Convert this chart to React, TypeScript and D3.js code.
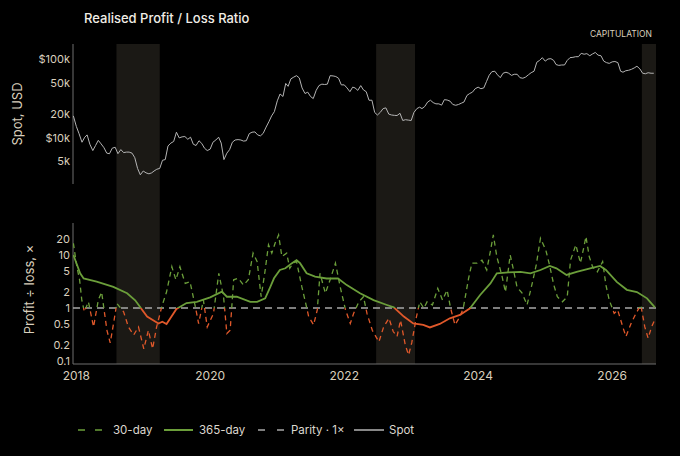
import * as d3 from 'd3';

// Spot price (thousand USD), sampled on the 1st and 16th of each month from 2017-12-16
const SPOT_K = [
  19,
  14.0, 11.3, 8.8, 10.2, 10.9, 8.3, 6.9, 8.0, 9.3, 8.4, 7.5, 6.4, 6.3, 7.4, 7.6, 6.3, 7.1, 6.5, 6.6, 6.6, 6.4, 5.6, 4.1, 3.4,
  3.8, 3.6, 3.5, 3.6, 3.8, 4.0, 4.1, 5.2, 5.3, 7.9, 8.6, 9.0, 11.8, 10.0, 10.3, 10.4, 9.6, 10.2, 8.3, 8.0, 9.2, 8.5, 7.4, 6.9,
  7.2, 8.8, 9.4, 10.2, 8.6, 5.3, 6.4, 7.1, 8.8, 9.4, 9.5, 9.4, 9.1, 9.2, 11.3, 11.8, 11.9, 10.9, 10.6, 11.4, 13.7, 16.0, 19.0, 21.5,
  29.5, 36, 33.5, 49, 45, 56, 59, 61.5, 57.5, 43, 36.5, 38, 33.5, 31.5, 40, 46, 48, 47.5, 48, 61.5, 61, 60, 57, 47,
  47, 43, 38.5, 44, 43, 40, 46, 40.5, 38.5, 30, 30, 21, 19.5, 21, 23.5, 24, 20, 19.5, 19.3, 19.2, 20.5, 16.6, 17.0, 16.8,
  16.6, 21, 23.5, 24.5, 23.5, 25, 28.5, 30, 28, 27, 27, 26, 30.5, 30.2, 29.2, 26.5, 25.9, 26.5, 27.5, 28.5, 34.5, 36.5, 38, 42,
  44, 42, 43, 52, 62, 69, 70, 63, 58, 66, 68, 66, 62, 64, 64, 58, 57, 59, 63, 67, 70, 91, 96, 104,
  94, 100, 101, 96, 85, 83, 84, 84, 96, 104, 105, 107, 107, 118, 115, 117, 110, 116, 121, 112, 110, 94, 90, 88,
  92, 93, 90, 70, 68, 71, 72, 74, 77, 81, 75, 66, 65, 67, 66, 66,
];

// 30-day realised profit / loss ratio
const RATIO_30: [string, number][] = [
  ['2017-12-16', 16.6], ['2018-01-04', 6.0], ['2018-01-19', 3.4], ['2018-01-31', 1.4], ['2018-02-14', 0.85],
  ['2018-03-08', 1.31], ['2018-04-05', 0.44], ['2018-05-01', 1.41], ['2018-05-19', 2.0], ['2018-06-17', 0.38],
  ['2018-07-05', 0.22], ['2018-07-23', 0.51], ['2018-08-10', 1.22], ['2018-09-16', 0.85], ['2018-10-12', 0.44],
  ['2018-11-10', 0.31], ['2018-12-06', 0.44], ['2019-01-04', 0.17], ['2019-01-29', 0.38], ['2019-02-21', 0.17],
  ['2019-03-15', 0.44], ['2019-04-12', 1.06], ['2019-05-08', 2.0], ['2019-06-06', 6.0], ['2019-06-28', 3.4],
  ['2019-07-20', 6.0], ['2019-08-18', 2.9], ['2019-09-13', 3.14], ['2019-10-12', 1.06], ['2019-10-30', 0.51],
  ['2019-11-25', 1.41], ['2019-12-16', 0.44], ['2020-01-19', 0.79], ['2020-02-17', 4.5], ['2020-03-14', 1.63],
  ['2020-04-01', 0.33], ['2020-04-19', 0.38], ['2020-05-08', 3.4], ['2020-06-03', 3.63], ['2020-07-01', 2.7],
  ['2020-07-27', 3.4], ['2020-08-22', 10.8], ['2020-09-13', 7.5], ['2020-10-05', 1.63], ['2020-10-27', 5.2],
  ['2020-11-14', 15.5], ['2020-12-02', 10.8], ['2020-12-20', 16.6], ['2021-01-08', 23.8], ['2021-01-26', 9.3],
  ['2021-02-21', 10.8], ['2021-03-10', 5.6], ['2021-03-28', 7.0], ['2021-04-16', 7.5], ['2021-05-15', 2.5],
  ['2021-06-03', 1.31], ['2021-06-21', 0.69], ['2021-07-18', 0.48], ['2021-08-07', 0.92], ['2021-08-22', 4.5],
  ['2021-09-20', 1.9], ['2021-10-16', 3.4], ['2021-11-14', 7.0], ['2021-12-10', 2.5], ['2022-01-08', 0.92],
  ['2022-02-03', 0.51], ['2022-02-21', 0.79], ['2022-03-22', 1.31], ['2022-04-16', 1.63], ['2022-05-05', 0.79],
  ['2022-06-03', 0.38], ['2022-07-09', 0.23], ['2022-08-04', 0.44], ['2022-09-02', 0.64], ['2022-09-25', 0.36],
  ['2022-10-16', 0.29], ['2022-11-04', 0.59], ['2022-11-30', 0.2], ['2022-12-18', 0.13], ['2023-01-04', 0.22],
  ['2023-01-30', 0.69], ['2023-02-17', 1.31], ['2023-03-11', 0.99], ['2023-03-29', 1.31], ['2023-04-27', 1.14],
  ['2023-05-26', 2.35], ['2023-06-21', 1.41], ['2023-07-16', 2.18], ['2023-08-04', 0.99], ['2023-08-28', 0.48],
  ['2023-09-24', 0.69], ['2023-10-12', 0.99], ['2023-11-10', 3.6], ['2023-11-28', 7.0], ['2023-12-26', 7.0],
  ['2024-01-22', 8.0], ['2024-02-17', 5.2], ['2024-03-06', 10.8], ['2024-03-24', 23.8], ['2024-04-12', 9.3],
  ['2024-05-11', 3.9], ['2024-05-29', 2.0], ['2024-06-24', 10], ['2024-07-12', 5.2], ['2024-07-31', 2.5],
  ['2024-08-28', 1.9], ['2024-09-24', 1.14], ['2024-10-22', 2.9], ['2024-11-13', 6.5], ['2024-12-06', 20.6],
  ['2025-01-04', 12.4], ['2025-01-22', 7.0], ['2025-02-17', 2.7], ['2025-03-08', 1.63], ['2025-04-05', 1.31],
  ['2025-05-01', 1.63], ['2025-05-19', 8.0], ['2025-06-17', 15.5], ['2025-07-12', 7.0], ['2025-07-31', 14.3],
  ['2025-08-11', 22.2], ['2025-08-29', 9.3], ['2025-09-16', 6.0], ['2025-10-12', 4.8], ['2025-11-10', 7.5],
  ['2025-11-28', 2.7], ['2025-12-16', 1.41], ['2026-01-12', 0.79], ['2026-01-31', 0.92], ['2026-02-28', 0.44],
  ['2026-03-17', 0.29], ['2026-04-14', 0.51], ['2026-05-11', 0.79], ['2026-06-06', 1.14], ['2026-06-28', 0.44],
  ['2026-07-16', 0.27], ['2026-08-04', 0.44], ['2026-08-25', 0.64],
];

// 365-day realised profit / loss ratio
const RATIO_365: [string, number][] = [
  ['2017-12-16', 10], ['2018-01-22', 4.5], ['2018-02-10', 3.6], ['2018-04-22', 3.14], ['2018-07-22', 2.5],
  ['2018-10-05', 1.9], ['2018-11-18', 1.4], ['2018-12-16', 1.03], ['2019-01-22', 0.69], ['2019-03-25', 0.51],
  ['2019-04-15', 0.55], ['2019-05-08', 0.5], ['2019-07-01', 0.96], ['2019-08-25', 1.24], ['2019-10-20', 1.31],
  ['2020-01-01', 1.59], ['2020-03-05', 2.03], ['2020-04-01', 1.63], ['2020-05-25', 1.63], ['2020-08-07', 1.31],
  ['2020-09-13', 1.31], ['2020-10-27', 1.52], ['2020-11-24', 2.5], ['2020-12-14', 3.63], ['2021-01-15', 5.2],
  ['2021-02-14', 5.6], ['2021-03-22', 7.0], ['2021-04-16', 8.0], ['2021-05-05', 7.0], ['2021-06-10', 4.5],
  ['2021-07-26', 3.9], ['2021-09-27', 3.6], ['2021-11-28', 3.6], ['2022-01-15', 2.7], ['2022-03-28', 1.9],
  ['2022-06-10', 1.41], ['2022-08-22', 1.14], ['2022-09-28', 1.03], ['2022-11-22', 0.69], ['2023-01-12', 0.51],
  ['2023-03-08', 0.48], ['2023-04-13', 0.43], ['2023-06-06', 0.5], ['2023-07-31', 0.64], ['2023-09-24', 0.74],
  ['2023-11-18', 0.99], ['2024-01-12', 1.76], ['2024-03-08', 2.9], ['2024-04-12', 4.5], ['2024-06-14', 4.7],
  ['2024-08-19', 4.8], ['2024-10-12', 4.5], ['2024-12-06', 5.2], ['2025-01-26', 6.2], ['2025-03-03', 5.6],
  ['2025-04-27', 4.2], ['2025-06-21', 4.8], ['2025-09-03', 5.6], ['2025-10-27', 6.2], ['2025-11-28', 5.2],
  ['2026-01-26', 3.1], ['2026-03-22', 2.2], ['2026-05-16', 2.0], ['2026-07-10', 1.52], ['2026-08-22', 1.03],
];

// Capitulation windows
const CAPITULATION: [string, string][] = [
  ['2018-08-08', '2019-04-01'],
  ['2022-06-24', '2023-01-22'],
  ['2026-06-12', '2026-08-28'],
];

const YEAR_TICKS = [2018, 2020, 2022, 2024, 2026];
const SPOT_TICKS = [5000, 10000, 20000, 50000, 100000];
const SPOT_TICK_LABELS = ['5k', '$10k', '20k', '50k', '$100k'];
const RATIO_TICKS = [0.1, 0.2, 0.5, 1, 2, 5, 10, 20];
const RATIO_TICK_LABELS = ['0.1', '0.2', '0.5', '1', '2', '5', '10', '20'];

const W = 680;
const H = 456;
const LEFT = 73;
const RIGHT = 656;
const TOP1 = 44;
const BOT1 = 184;
const TOP2 = 223;
const BOT2 = 364;

const GREEN = '#6b9e3a';
const ORANGE = '#e0582a';
const TEXT = '#d9cfbd';
const FONT = 'Inter, "Noto Sans", sans-serif';

const parse = d3.utcParse('%Y-%m-%d');

type Pt = { date: Date; value: number };

const spotPts: Pt[] = SPOT_K.map((v, i) => {
  const m = Math.floor((i + 1) / 2);
  const day = (i + 1) % 2 === 0 ? 1 : 16;
  return { date: new Date(Date.UTC(2017, 11 + m, day)), value: v * 1000 };
});
const r30: Pt[] = RATIO_30.map(([d, v]) => ({ date: parse(d)!, value: v }));
const r365: Pt[] = RATIO_365.map(([d, v]) => ({ date: parse(d)!, value: v }));

export default function App() {
  const x = d3
    .scaleUtc()
    .domain([parse('2017-12-14')!, parse('2026-08-28')!])
    .range([LEFT, RIGHT]);
  const ySpot = d3.scaleLog().domain([2600, 155000]).range([BOT1, TOP1]);
  const yRatio = d3.scaleLog().domain([0.088, 40]).range([BOT2, TOP2]);

  const spotLine = d3
    .line<Pt>()
    .x((d) => x(d.date))
    .y((d) => ySpot(d.value));
  const ratioLine = d3
    .line<Pt>()
    .x((d) => x(d.date))
    .y((d) => yRatio(d.value));

  const y1 = yRatio(1);

  return (
    <svg
      width={W}
      height={H}
      style={{ position: 'absolute', left: 0, top: 0, display: 'block' }}
      fontFamily={FONT}
    >
      <defs>
        <clipPath id="above">
          <rect x={LEFT} y={TOP2 - 10} width={RIGHT - LEFT} height={y1 - TOP2 + 10} />
        </clipPath>
        <clipPath id="below">
          <rect x={LEFT} y={y1} width={RIGHT - LEFT} height={BOT2 - y1 + 10} />
        </clipPath>
      </defs>
      <rect width={W} height={H} fill="#000" />

      {/* shaded capitulation windows across both panels */}
      {CAPITULATION.map(([a, b]) => (
        <rect
          key={a}
          x={x(parse(a)!)}
          y={TOP1}
          width={x(parse(b)!) - x(parse(a)!)}
          height={BOT2 - TOP1}
          fill="#1b1915"
        />
      ))}

      <text x={84} y={23} fill="#f1ede6" fontSize={13} fontWeight={500}>
        Realised Profit / Loss Ratio
      </text>
      <text x={652} y={37} fill={TEXT} fontSize={8.5} textAnchor="end">
        CAPITULATION
      </text>

      {/* top panel: spot */}
      <line x1={LEFT} x2={LEFT} y1={TOP1} y2={BOT1} stroke="#6e6e6e" />
      {SPOT_TICKS.map((t, i) => (
        <text key={t} x={70} y={ySpot(t)} dy="0.35em" textAnchor="end" fill={TEXT} fontSize={11}>
          {SPOT_TICK_LABELS[i]}
        </text>
      ))}
      <text
        transform={`translate(22,${(TOP1 + BOT1) / 2}) rotate(-90)`}
        textAnchor="middle"
        fill={TEXT}
        fontSize={13}
      >
        Spot, USD
      </text>
      <path d={spotLine(spotPts)!} fill="none" stroke="#b4b4b4" strokeWidth={1} />

      {/* bottom panel: ratios */}
      <line x1={LEFT} x2={LEFT} y1={TOP2} y2={BOT2} stroke="#6e6e6e" />
      <line x1={LEFT} x2={RIGHT} y1={BOT2} y2={BOT2} stroke="#6e6e6e" />
      {RATIO_TICKS.map((t, i) => (
        <text key={t} x={70} y={yRatio(t)} dy="0.35em" textAnchor="end" fill={TEXT} fontSize={11}>
          {RATIO_TICK_LABELS[i]}
        </text>
      ))}
      <text
        transform={`translate(34,${(TOP2 + BOT2) / 2 - 4}) rotate(-90)`}
        textAnchor="middle"
        fill={TEXT}
        fontSize={13}
      >
        Profit ÷ loss, ×
      </text>
      {YEAR_TICKS.map((yr) => (
        <text
          key={yr}
          x={x(new Date(Date.UTC(yr, 0, 1)))}
          y={380}
          textAnchor="middle"
          fill={TEXT}
          fontSize={12}
        >
          {yr}
        </text>
      ))}

      <line x1={LEFT} x2={RIGHT} y1={y1} y2={y1} stroke="#a8a8a8" strokeWidth={1.5} strokeDasharray="7,5" />

      {[
        { id: 'above', color: GREEN },
        { id: 'below', color: ORANGE },
      ].map((c) => (
        <g key={c.id} clipPath={`url(#${c.id})`}>
          <path
            d={ratioLine(r30)!}
            fill="none"
            stroke={c.color}
            strokeWidth={1.3}
            strokeDasharray="5,4"
          />
          <path d={ratioLine(r365)!} fill="none" stroke={c.color} strokeWidth={1.8} />
        </g>
      ))}

      {/* legend */}
      <g fontSize={11.5} fill="#ddd8cf">
        <line x1={78} x2={102} y1={430} y2={430} stroke={GREEN} strokeWidth={1.5} strokeDasharray="7,10" />
        <text x={113} y={430} dy="0.35em">30-day</text>
        <line x1={164} x2={193} y1={430} y2={430} stroke={GREEN} strokeWidth={2} />
        <text x={199} y={430} dy="0.35em">365-day</text>
        <line x1={258} x2={284} y1={430} y2={430} stroke="#a8a8a8" strokeWidth={1.5} strokeDasharray="7,12" />
        <text x={291} y={430} dy="0.35em">Parity · 1×</text>
        <line x1={354} x2={384} y1={430} y2={430} stroke="#b4b4b4" strokeWidth={1.5} />
        <text x={389} y={430} dy="0.35em">Spot</text>
      </g>
    </svg>
  );
}
